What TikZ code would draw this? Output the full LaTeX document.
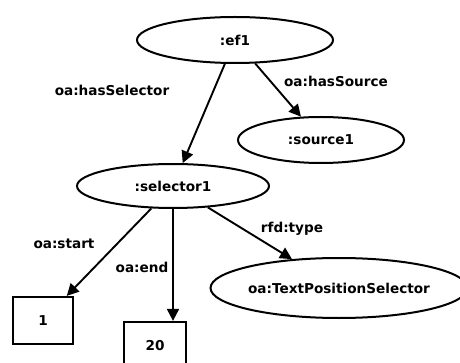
\documentclass[tikz,border=0pt]{standalone}
\usepackage{fontspec}
\setmainfont{DejaVu Sans}
\usetikzlibrary{shapes.geometric,arrows.meta}
\begin{document}
\begin{tikzpicture}[x=1pt,y=-1pt,
  every node/.style={font=\bfseries\fontsize{13.6}{16}\selectfont},
  ell/.style={ellipse,draw,line width=2pt,inner sep=0pt},
  box/.style={rectangle,draw,line width=2.2pt,inner sep=0pt},
  conn/.style={line width=1.9pt,-{Triangle[length=12pt,width=12pt]}},
  lbl/.style={inner sep=0pt}]
\useasboundingbox (0,0) rectangle (460,363);
\clip (0,0) rectangle (460,363);
\node[ell,minimum width=196pt,minimum height=46pt] (ef1) at (235,40) {:ef1};
\node[ell,minimum width=166pt,minimum height=46pt] (src) at (321,140) {:source1};
\node[ell,minimum width=192pt,minimum height=44pt] (sel) at (173,186) {:selector1};
\node[ell,minimum width=242pt,minimum height=60pt] (tps) at (339,288) {oa:TextPositionSelector};
\node[box,minimum width=60pt,minimum height=47pt] (n1) at (43,320.5) {1};
\node[box,minimum width=62pt,minimum height=47pt] (n20) at (155,345.5) {20};
\draw[conn] (ef1) -- (sel);
\draw[conn] (ef1) -- (src);
\draw[conn] (sel) -- (n1);
\draw[conn] (sel.south) -- (sel.south |- n20.north);
\draw[conn] (sel) -- (tps);
\node[lbl] (l1) at (112,90) {oa:hasSelector};
\node[lbl] (l2) at (336,81) {oa:hasSource};
\node[lbl] (l3) at (64,244) {oa:start};
\node[lbl] (l4) at (142,267) {oa:end};
\node[lbl] (l5) at (292,229) {rfd:type};
\end{tikzpicture}
\end{document}
